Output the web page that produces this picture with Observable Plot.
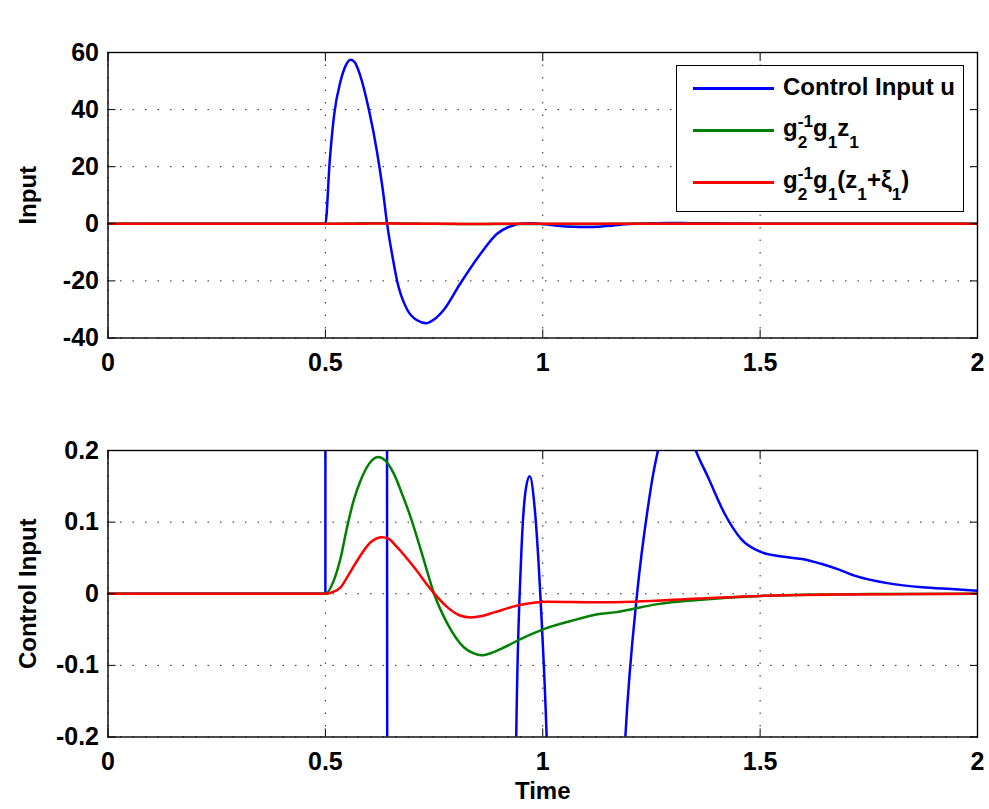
<!DOCTYPE html>
<html>
<head>
<meta charset="utf-8">
<script src="https://cdn.jsdelivr.net/npm/d3@7"></script>
<script src="https://cdn.jsdelivr.net/npm/@observablehq/plot@0.6"></script>
<style>
  body { margin: 0; background: #fff; }
  #wrap { position: relative; width: 989px; height: 809px; background: #fff; overflow: hidden;
          font-family: "Liberation Sans", Arial, Helvetica, sans-serif; font-weight: bold; color: #000; }
  #title { position: absolute; left: 0; top: 10px; width: 1084px; text-align: center; font-size: 25px; line-height: 25px; }
  #wrap svg { position: absolute; left: 0; }
  #legend { position: absolute; left: 676px; top: 65px; width: 286px; height: 145px; border: 1.4px solid #000; background: #fff; font-size: 24px; }
  .row { position: absolute; left: 0; width: 100%; height: 30px; }
  .sw { position: absolute; left: 16px; width: 81px; height: 3px; top: 14px; }
  .tx { position: absolute; left: 106px; top: 0; height: 30px; line-height: 30px; white-space: nowrap; }
  .sb { font-size: 0.72em; position: relative; top: 0.7em; line-height: 1; }
  .sp { font-size: 0.72em; position: relative; top: -0.55em; line-height: 1; }
</style>
</head>
<body>
<div id="wrap">
  <div id="title">The Backstepping Terms vs control input</div>
</div>
<script>
// ---- data ----
const seriesNames = ["Control Input u", "g2^-1 g1 z1", "g2^-1 g1 (z1+xi1)"];
const seriesColors = ["#0000ff", "#008000", "#ff0000"];

const tU = [0, 0.5, 0.51, 0.52, 0.535, 0.547, 0.558, 0.568, 0.58, 0.6, 0.619, 0.632, 0.642, 0.655, 0.665, 0.688, 0.71, 0.732, 0.75, 0.773, 0.81, 0.857, 0.895, 0.92, 0.932, 0.939, 0.95, 0.961, 0.97, 0.982, 0.996, 1.009, 1.02, 1.04, 1.07, 1.1, 1.13, 1.16, 1.19, 1.217, 1.242, 1.254, 1.265, 1.285, 1.305, 1.325, 1.352, 1.38, 1.419, 1.457, 1.503, 1.55, 1.596, 1.642, 1.68, 1.719, 1.796, 1.873, 1.94, 2.0];
const uVals = [0, 0, 22, 38, 50, 55.5, 57.5, 56.5, 52, 40, 25, 12, 0, -12, -20, -30, -33.7, -34.8, -33.5, -30, -21, -10.5, -3.5, -1.2, -0.6, -0.2, 0.046, 0.146, 0.164, 0.116, -0.02, -0.2, -0.45, -0.75, -1.0, -1.1, -1.0, -0.65, -0.2, 0, 0.121, 0.167, 0.2, 0.25, 0.27, 0.25, 0.2, 0.163, 0.111, 0.076, 0.058, 0.052, 0.0485, 0.0415, 0.034, 0.025, 0.0145, 0.009, 0.0065, 0.0042];

const tG = [0, 0.5, 0.519, 0.535, 0.55, 0.565, 0.581, 0.6, 0.621, 0.638, 0.658, 0.676, 0.696, 0.727, 0.75, 0.781, 0.819, 0.84, 0.86, 0.88, 0.904, 0.95, 1.004, 1.065, 1.134, 1.165, 1.265, 1.35, 1.5, 1.6, 1.75, 2.0];
const gVals = [0, 0, 0.018, 0.05, 0.093, 0.13, 0.158, 0.181, 0.191, 0.186, 0.167, 0.14, 0.107, 0.046, 0, -0.042, -0.075, -0.083, -0.086, -0.083, -0.077, -0.063, -0.049, -0.038, -0.028, -0.026, -0.0145, -0.009, -0.003, -0.0015, -0.0005, 0];

const tR = [0, 0.5, 0.515, 0.535, 0.552, 0.573, 0.604, 0.631, 0.645, 0.665, 0.704, 0.742, 0.781, 0.808, 0.834, 0.86, 0.888, 0.95, 1.011, 1.127, 1.211, 1.357, 1.5, 1.7, 2.0];
const rVals = [0, 0, 0.002, 0.009, 0.025, 0.046, 0.072, 0.079, 0.077, 0.065, 0.037, 0.0065, -0.019, -0.03, -0.033, -0.031, -0.026, -0.0154, -0.0112, -0.012, -0.011, -0.0066, -0.003, -0.001, 0];

const xTicks = [0, 0.5, 1, 1.5, 2];
const yTicksTop = [-40, -20, 0, 20, 40, 60];
const yTicksBottom = [-0.2, -0.1, 0, 0.1, 0.2];

// ---- build tables ----
const rowsU = tU.map((t, i) => ({t, v: uVals[i]}));
const rowsG = tG.map((t, i) => ({t, v: gVals[i]}));
const rowsR = tR.map((t, i) => ({t, v: rVals[i]}));

const fontStyle = {fontFamily: '"Liberation Sans", Arial, Helvetica, sans-serif', fontSize: "25px", fontWeight: "bold", background: "white", color: "black", overflow: "visible"};
const blank = () => "";
const grid = {stroke: "black", strokeOpacity: 0.85, strokeWidth: 1, strokeDasharray: "1.5,11"};
const lineOpts = {x: "t", y: "v", strokeWidth: 2.5, clip: true, curve: "monotone-x"};

function panel({height, marginTop, marginBottom, yDomain, yTicks, yLabel, xLabel}) {
  const marks = [
    Plot.gridX(xTicks, grid),
    Plot.gridY(yTicks, grid),
    Plot.line(rowsU, {...lineOpts, stroke: seriesColors[0]}),
    Plot.line(rowsG, {...lineOpts, stroke: seriesColors[1]}),
    Plot.line(rowsR, {...lineOpts, stroke: seriesColors[2]}),
    Plot.axisX(xTicks, {anchor: "bottom", tickSize: 8, dy: -8, tickPadding: 15, tickFormat: d => String(d), stroke: "black"}),
    Plot.axisX(xTicks, {anchor: "top", tickSize: 8, dy: 8, tickFormat: blank, stroke: "black"}),
    Plot.axisY(yTicks, {anchor: "left", tickSize: 8, dx: 8, tickPadding: 9, tickFormat: d => String(d), stroke: "black"}),
    Plot.axisY(yTicks, {anchor: "right", tickSize: 8, dx: -8, tickFormat: blank, stroke: "black"}),
    Plot.frame({stroke: "black", strokeWidth: 1.4}),
    Plot.text([yLabel], {frameAnchor: "left", dx: -80, rotate: -90, textAnchor: "middle", lineAnchor: "middle", fontSize: 24, fill: "black"})
  ];
  if (xLabel) marks.push(Plot.text([xLabel], {frameAnchor: "bottom", dy: 54, textAnchor: "middle", lineAnchor: "middle", fontSize: 24, fill: "black"}));
  return Plot.plot({
    width: 989, height,
    marginLeft: 107.5, marginRight: 12, marginTop, marginBottom,
    x: {domain: [0, 2], label: null},
    y: {domain: yDomain, label: null},
    style: fontStyle,
    marks
  });
}

const topPlot = panel({height: 400, marginTop: 52, marginBottom: 62.5, yDomain: [-40, 60], yTicks: yTicksTop, yLabel: "Input"});
const bottomPlot = panel({height: 409, marginTop: 50, marginBottom: 72.5, yDomain: [-0.2, 0.2], yTicks: yTicksBottom, yLabel: "Control Input", xLabel: "Time"});

const wrap = document.getElementById("wrap");
topPlot.style.top = "0px";
bottomPlot.style.top = "400px";
wrap.appendChild(topPlot);
wrap.appendChild(bottomPlot);

// legend (HTML overlay inside the top axes)
const legend = document.createElement("div");
legend.id = "legend";
const stack = '<span class="sb">2</span><span class="sp" style="margin-left:-0.556em">-1</span>';
const labelsHtml = [
  "Control Input u",
  'g' + stack + 'g<span class="sb">1</span>z<span class="sb">1</span>',
  'g' + stack + 'g<span class="sb">1</span>(z<span class="sb">1</span>+ξ<span class="sb">1</span>)'
];
const rowCenters = [20.5, 62, 114];
const swCenters = [21.7, 64, 116];
labelsHtml.forEach((h, i) => {
  const row = document.createElement("div");
  row.className = "row";
  row.style.top = (rowCenters[i] - 15) + "px";
  const sw = document.createElement("div");
  sw.className = "sw";
  sw.style.background = seriesColors[i];
  sw.style.top = Math.round(swCenters[i] - rowCenters[i] + 15 - 1.5) + "px";
  const tx = document.createElement("div");
  tx.className = "tx";
  tx.innerHTML = h;
  tx.title = seriesNames[i];
  row.appendChild(sw);
  row.appendChild(tx);
  legend.appendChild(row);
});
wrap.appendChild(legend);
</script>
</body>
</html>
